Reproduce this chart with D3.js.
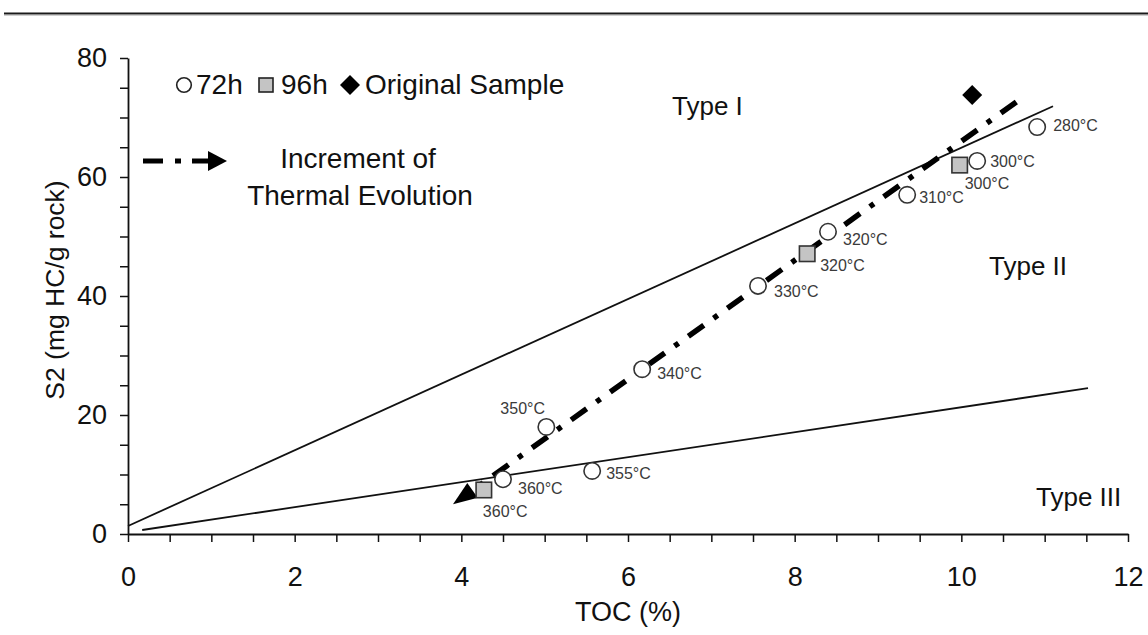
<!DOCTYPE html>
<html>
<head>
<meta charset="utf-8">
<script src="https://cdn.jsdelivr.net/npm/d3@7/dist/d3.min.js"></script>
<style>
  html, body { margin: 0; padding: 0; background: #fff; }
  svg { display: block; font-family: "Liberation Sans", Arial, Helvetica, sans-serif; }
</style>
</head>
<body>
<svg id="chart" width="1148" height="635"></svg>
<script>
// ---------- data ----------
const series72hTemps = ["280°C", "300°C", "310°C", "320°C", "330°C", "340°C", "350°C", "355°C", "360°C"];
const series72hTOC   = [10.91, 10.19, 9.35, 8.40, 7.56, 6.17, 5.02, 5.57, 4.50];
const series72hS2    = [68.4, 62.7, 57.0, 50.8, 41.7, 27.7, 18.0, 10.6, 9.2];

const series96hTemps = ["300°C", "320°C", "360°C"];
const series96hTOC   = [9.98, 8.15, 4.27];
const series96hS2    = [62.0, 47.1, 7.4];

const originalTOC = [10.13];
const originalS2  = [73.8];

// kerogen-type boundary lines: [TOC, S2] end points
const typeIBoundary   = [[0, 1.35], [11.1, 71.9]];
const typeIIIBoundary = [[0.17, 0.67], [11.52, 24.5]];
// thermal evolution trend (start, arrow tip)
const trendLine = [[10.66, 72.6], [3.90, 5.0]];

const xTicks = [0, 2, 4, 6, 8, 10, 12];
const yTicks = [0, 20, 40, 60, 80];
const typeNames = ["Type I", "Type II", "Type III"];

// ---------- layout (pixel placements, not data) ----------
const label72hOffsets = [[16, 4], [13, 6], [12, 8], [15, 13], [16, 11], [15, 10], [-46, -13], [14, 8], [15, 15]];
const label96hOffsets = [[5, 24], [13, 17], [-1, 27]];
const typeLabelPos = [[672, 115], [989, 275], [1036, 506]];

// ---------- chart ----------
const svg = d3.select("#chart");
const x = d3.scaleLinear().domain([0, 12]).range([128, 1128]);
const y = d3.scaleLinear().domain([0, 80]).range([534, 58]);

// top border
svg.append("line").attr("x1", 4).attr("x2", 1148).attr("y1", 13.5).attr("y2", 13.5)
  .attr("stroke", "#1a1a1a").attr("stroke-width", 2);
svg.append("line").attr("x1", 4).attr("x2", 1148).attr("y1", 15.5).attr("y2", 15.5)
  .attr("stroke", "#cfcfcf").attr("stroke-width", 1);

// axes
const xAxis = d3.axisBottom(x)
  .tickValues(d3.range(0, 12.001, 0.5))
  .tickFormat(d => xTicks.includes(d) ? d : "")
  .tickSize(8).tickSizeOuter(0).tickPadding(25);
const yAxis = d3.axisLeft(y)
  .tickValues(d3.range(0, 80.001, 5))
  .tickFormat(d => yTicks.includes(d) ? d : "")
  .tickSize(8).tickSizeOuter(0).tickPadding(13);

const gx = svg.append("g").attr("transform", `translate(0,${y(0)})`).call(xAxis);
const gy = svg.append("g").attr("transform", `translate(${x(0)},0)`).call(yAxis);
[gx, gy].forEach(g => {
  g.select(".domain").attr("stroke", "#111").attr("stroke-width", 1.8);
  g.selectAll(".tick line").attr("stroke", "#111").attr("stroke-width", 1.5);
  g.selectAll(".tick text").attr("font-size", 27).attr("fill", "#111")
    .attr("font-family", "'Liberation Sans', Arial, sans-serif");
});

// axis titles
svg.append("text").attr("x", 628).attr("y", 621).attr("text-anchor", "middle")
  .attr("font-size", 27).attr("fill", "#111").text("TOC (%)");
svg.append("text").attr("transform", "translate(64,290) rotate(-90)").attr("text-anchor", "middle")
  .attr("font-size", 26.5).attr("fill", "#111").text("S2 (mg HC/g rock)");

// boundary lines
const lineGen = d3.line().x(d => x(d[0])).y(d => y(d[1]));
[typeIBoundary, typeIIIBoundary].forEach(seg => {
  svg.append("path").attr("d", lineGen(seg)).attr("fill", "none")
    .attr("stroke", "#111").attr("stroke-width", 1.8);
});

// type labels
typeNames.forEach((t, i) => {
  svg.append("text").attr("x", typeLabelPos[i][0]).attr("y", typeLabelPos[i][1])
    .attr("font-size", 26).attr("fill", "#111").text(t);
});

// trend (dash-dot with arrow)
(function () {
  const x1 = x(trendLine[0][0]), y1 = y(trendLine[0][1]);
  const x2 = x(trendLine[1][0]), y2 = y(trendLine[1][1]);
  const len = Math.hypot(x2 - x1, y2 - y1);
  const ux = (x2 - x1) / len, uy = (y2 - y1) / len;
  const headLen = 24, headHalf = 9;
  const bx = x2 - ux * headLen, by = y2 - uy * headLen;
  svg.append("line").attr("x1", x1).attr("y1", y1).attr("x2", bx + ux * 2).attr("y2", by + uy * 2)
    .attr("stroke", "#000").attr("stroke-width", 5.5)
    .attr("stroke-dasharray", "19,12,5,12");
  svg.append("path")
    .attr("d", `M${x2},${y2}L${bx - uy * headHalf},${by + ux * headHalf}L${bx + uy * headHalf},${by - ux * headHalf}Z`)
    .attr("fill", "#000");
})();

// 72h points
const labelColor = "#3a3a3a";
series72hTOC.forEach((tx, i) => {
  svg.append("circle").attr("cx", x(tx)).attr("cy", y(series72hS2[i])).attr("r", 8.2)
    .attr("fill", "#fff").attr("stroke", "#333").attr("stroke-width", 1.6);
});
// 96h points
const sq = 15.5;
series96hTOC.forEach((tx, i) => {
  svg.append("rect").attr("x", x(tx) - sq / 2).attr("y", y(series96hS2[i]) - sq / 2)
    .attr("width", sq).attr("height", sq)
    .attr("fill", "#c4c4c4").attr("stroke", "#333").attr("stroke-width", 1.6);
});
// original sample
originalTOC.forEach((tx, i) => {
  const cx = x(tx), cy = y(originalS2[i]), h = 10;
  svg.append("path").attr("d", `M${cx},${cy - h}L${cx + h},${cy}L${cx},${cy + h}L${cx - h},${cy}Z`)
    .attr("fill", "#000");
});

// point labels
series72hTOC.forEach((tx, i) => {
  svg.append("text").attr("x", x(tx) + label72hOffsets[i][0]).attr("y", y(series72hS2[i]) + label72hOffsets[i][1])
    .attr("font-size", 16).attr("fill", labelColor).text(series72hTemps[i]);
});
series96hTOC.forEach((tx, i) => {
  svg.append("text").attr("x", x(tx) + label96hOffsets[i][0]).attr("y", y(series96hS2[i]) + label96hOffsets[i][1])
    .attr("font-size", 16).attr("fill", labelColor).text(series96hTemps[i]);
});

// legend
const lg = svg.append("g");
lg.append("circle").attr("cx", 184).attr("cy", 85).attr("r", 7.3)
  .attr("fill", "#fff").attr("stroke", "#222").attr("stroke-width", 1.6);
lg.append("text").attr("x", 196).attr("y", 94).attr("font-size", 28).attr("fill", "#111").text("72h");
lg.append("rect").attr("x", 259).attr("y", 78).attr("width", 14).attr("height", 14)
  .attr("fill", "#c4c4c4").attr("stroke", "#222").attr("stroke-width", 1.6);
lg.append("text").attr("x", 281).attr("y", 94).attr("font-size", 28).attr("fill", "#111").text("96h");
lg.append("path").attr("d", "M350,75L360,85L350,95L340,85Z").attr("fill", "#000");
lg.append("text").attr("x", 365).attr("y", 94).attr("font-size", 28).attr("fill", "#111").text("Original Sample");

lg.append("line").attr("x1", 143).attr("x2", 163).attr("y1", 161).attr("y2", 161)
  .attr("stroke", "#000").attr("stroke-width", 5);
lg.append("line").attr("x1", 175).attr("x2", 181).attr("y1", 161).attr("y2", 161)
  .attr("stroke", "#000").attr("stroke-width", 5);
lg.append("line").attr("x1", 192).attr("x2", 210).attr("y1", 161).attr("y2", 161)
  .attr("stroke", "#000").attr("stroke-width", 5);
lg.append("path").attr("d", "M227,161L208,151L208,171Z").attr("fill", "#000");
lg.append("text").attr("x", 358).attr("y", 168).attr("text-anchor", "middle")
  .attr("font-size", 28).attr("fill", "#111").text("Increment of");
lg.append("text").attr("x", 360).attr("y", 205).attr("text-anchor", "middle")
  .attr("font-size", 28).attr("fill", "#111").text("Thermal Evolution");
</script>
</body>
</html>
